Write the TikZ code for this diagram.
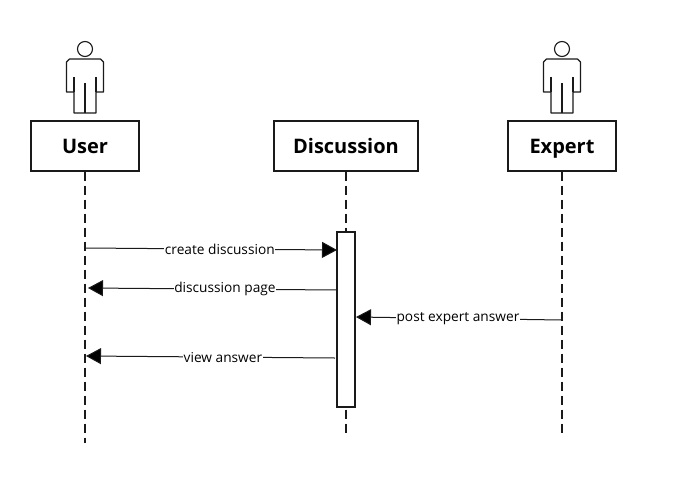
\documentclass[tikz,border=0pt]{standalone}
\usepackage{fontspec}
\setmainfont{Open Sans}
\usetikzlibrary{arrows.meta}
\definecolor{ink}{HTML}{1A1A1A}
\tikzset{
  x=1pt,y=-1pt,
  actorbox/.style={draw=ink,line width=1.2pt,fill=white,minimum height=50pt,inner sep=0pt,text height=16pt,text depth=1pt,font=\fontsize{20}{24}\selectfont\bfseries,text=black},
  lifeline/.style={draw=ink,line width=1.1pt,dash pattern=on 9pt off 5pt},
  activation/.style={draw=ink,line width=1.1pt,fill=white,minimum width=18pt,minimum height=175pt,inner sep=0pt},
  message/.style={draw=ink,line width=1pt,-{Triangle[length=15pt,width=16pt,fill=black]}},
  msglabel/.style={fill=white,inner sep=0.6pt,font=\fontsize{13.7}{16}\selectfont,text=black},
  figure/.style={draw=ink,line width=1.1pt,line join=round},
}
\newcommand{\stickman}[2]{%
  \node[figure,circle,minimum size=15pt,inner sep=0pt] (#2head) at (#1,49) {};
  \draw[figure] (#1-15.5,59) -- (#1+15.5,59) -- (#1+18.5,62) -- (#1+18.5,92) -- (#1+11,92)
    -- (#1+11,113) -- (#1-11,113) -- (#1-11,92) -- (#1-18.5,92) -- (#1-18.5,62) -- cycle;
  \draw[figure] (#1-11,77) -- (#1-11,92);
  \draw[figure] (#1+11,77) -- (#1+11,92);
  \draw[figure] (#1,83) -- (#1,113);
}
\begin{document}
\begin{tikzpicture}
\useasboundingbox (0,0) rectangle (675,488);
\fill[white] (0,0) rectangle (675,488);
\stickman{85}{user}
\stickman{562}{expert}
\node[actorbox,minimum width=108pt] (user) at (85,146) {User};
\node[actorbox,minimum width=144pt] (disc) at (346,146) {Discussion};
\node[actorbox,minimum width=108pt] (expert) at (562,146) {Expert};
\coordinate (userend) at (85,443);
\coordinate (discend) at (346,434);
\coordinate (expertend) at (562,434);
\draw[lifeline] (user.south) -- (userend);
\draw[lifeline] (disc.south) -- (discend);
\draw[lifeline] (expert.south) -- (expertend);
\node[activation] (act) at (346,319.5) {};
\coordinate (m1s) at (85,248);
\coordinate (m1e) at (337,250);
\coordinate (m2s) at (337,290);
\coordinate (m2e) at (88,288);
\coordinate (m3s) at (562,320);
\coordinate (m3e) at (356,317);
\coordinate (m4s) at (335,358);
\coordinate (m4e) at (86,356);
\draw[message] (m1s) -- node[msglabel,pos=.535] (l1) {create discussion} (m1e);
\draw[message] (m2s) -- node[msglabel,pos=.45] (l2) {discussion page} (m2e);
\draw[message] (m3s) -- node[msglabel,pos=.505] (l3) {post expert answer} (m3e);
\draw[message] (m4s) -- node[msglabel,pos=.45] (l4) {view answer} (m4e);
\end{tikzpicture}
\end{document}
